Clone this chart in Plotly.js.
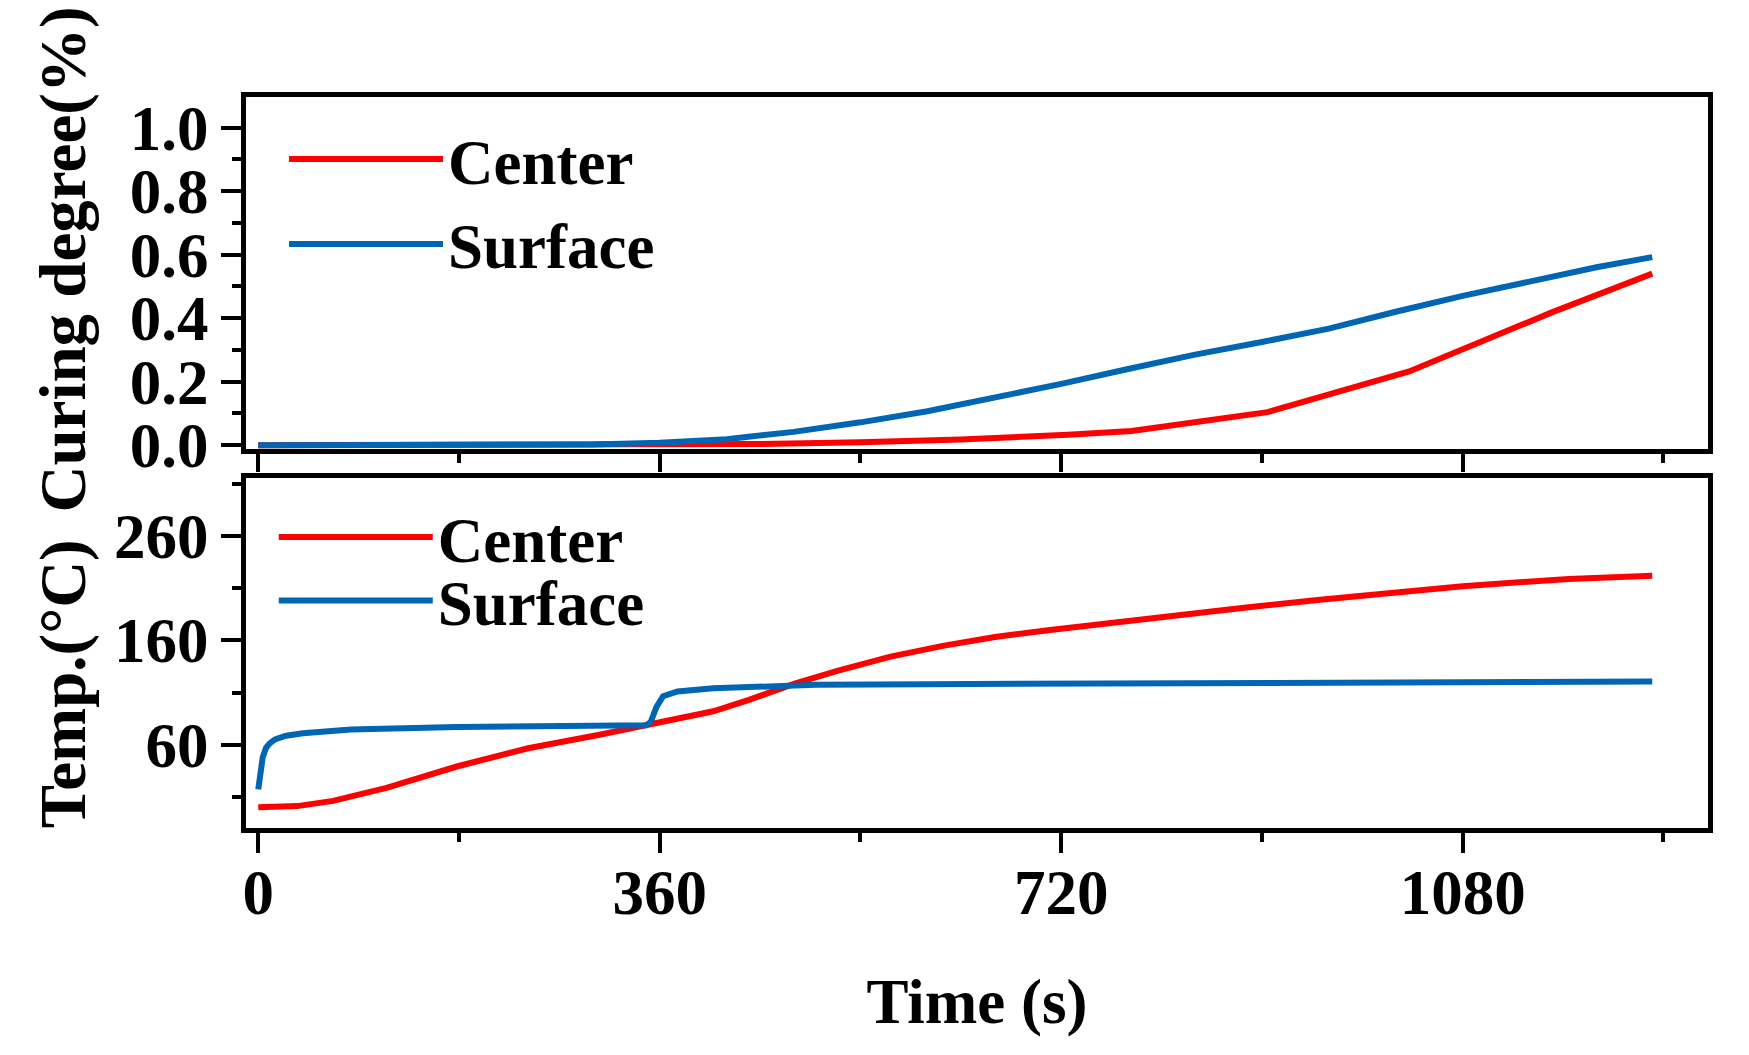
<!DOCTYPE html>
<html>
<head>
<meta charset="utf-8">
<script src="https://cdn.plot.ly/plotly-3.0.1.min.js"></script>
<style>
    body { margin: 0; background: #fff; }
    #chart { width: 1749px; height: 1055px; }
</style>
</head>
<body>
<div id="chart"></div>
<script>
// curing degree
let centerCureTime = [0, 180, 360, 450, 540, 630, 726, 783, 905, 1032, 1160, 1250]
let centerCure = [0, 0, 0.001, 0.004, 0.009, 0.018, 0.033, 0.045, 0.104, 0.232, 0.418, 0.54]

let surfaceCureTime = [0, 100, 200, 300, 360, 420, 480, 540, 600, 660, 720, 780, 840, 900, 960, 1020, 1080, 1140, 1200, 1250]
let surfaceCure = [0, 0, 0, 0.002, 0.008, 0.019, 0.042, 0.072, 0.107, 0.148, 0.193, 0.24, 0.285, 0.325, 0.367, 0.42, 0.47, 0.515, 0.56, 0.592]

// temperature, lower panel
let centerTempTime = [0, 35, 67, 115, 178, 242, 306, 348, 380, 408, 440, 481, 520, 567, 615, 662, 710, 757, 827, 890, 952, 1015, 1080, 1175, 1250]
let centerTemp = [0, 1, 6, 18.5, 39, 56.5, 69.5, 79, 85.5, 92, 103, 118.5, 131, 144.5, 155, 163.5, 170, 176, 185, 192, 199, 205.5, 212, 219, 222]

let surfaceTempTime = [0, 1, 2, 4, 7, 10, 15, 25, 40, 60, 83, 178, 274, 348, 352, 357, 363, 376, 408, 440, 500, 600, 800, 1000, 1250]
let surfaceTemp = [17, 28, 38, 48, 57, 61, 65, 68.5, 71, 73, 74.5, 77, 78, 78.5, 82, 96, 106.5, 111, 114, 115.5, 117.5, 118, 119, 119.5, 120.5]

let seriesNames = ['Center', 'Surface']
let seriesColors = ['#ff0000', '#0066b3']

let timeTicks = [0, 360, 720, 1080]
let cureTicks = [0, 0.2, 0.4, 0.6, 0.8, 1.0]
let tempTicks = [60, 160, 260]

let fontFamily = 'Liberation Serif, Times New Roman, serif'
let bigFont = { family: fontFamily, size: 63, color: '#000', weight: 'bold' }

function line(x, y, i, xa, ya, legend) {
    return {
        x: x, y: y, xaxis: xa, yaxis: ya, legend: legend,
        name: seriesNames[i], mode: 'lines',
        line: { color: seriesColors[i], width: 6 }
    }
}

let data = [
    line(centerCureTime, centerCure, 0, 'x', 'y', 'legend'),
    line(surfaceCureTime, surfaceCure, 1, 'x', 'y', 'legend'),
    line(centerTempTime, centerTemp, 0, 'x2', 'y2', 'legend2'),
    line(surfaceTempTime, surfaceTemp, 1, 'x2', 'y2', 'legend3'),
]

function minorTicks(dtick, tick0) {
    return { ticks: 'outside', ticklen: 9, tickwidth: 4, tickcolor: '#000', dtick: dtick, tick0: tick0, showgrid: false }
}

function frame(extra) {
    let ax = {
        showline: true, linecolor: '#000', linewidth: 5, mirror: true,
        showgrid: false, zeroline: false,
        ticks: 'outside', ticklen: 20, tickwidth: 4, tickcolor: '#000',
        tickfont: bigFont, ticklabelstandoff: 0
    }
    return Object.assign(ax, extra)
}

let xRange = [-11, 1300]

let layout = {
    width: 1749,
    height: 1055,
    margin: { l: 246, r: 41, t: 97, b: 227 },
    paper_bgcolor: '#fff',
    plot_bgcolor: '#fff',
    font: bigFont,
    xaxis: frame({
        anchor: 'y', domain: [0, 1], range: xRange,
        tickvals: timeTicks, showticklabels: false, ticklen: 18,
        minor: minorTicks(180, 0)
    }),
    yaxis: frame({
        anchor: 'x', domain: [0.518, 1], range: [-0.013, 1.096],
        tickvals: cureTicks, ticktext: cureTicks.map(v => v.toFixed(1)),
        minor: minorTicks(0.1, 0)
    }),
    xaxis2: frame({
        anchor: 'y2', domain: [0, 1], range: xRange,
        tickvals: timeTicks, ticklabelstandoff: -15,
        minor: minorTicks(180, 0),
        title: { text: 'Time (s)', font: bigFont, standoff: 54 }
    }),
    yaxis2: frame({
        anchor: 'x2', domain: [0, 0.479], range: [-20, 316],
        tickvals: tempTicks,
        minor: minorTicks(50, 10)
    }),
    legend: {
        x: 0.026, xanchor: 'left', y: 0.857, yanchor: 'middle',
        font: bigFont, itemwidth: 154, bgcolor: 'rgba(0,0,0,0)', tracegroupgap: 0
    },
    legend2: {
        x: 0.019, xanchor: 'left', y: 0.398, yanchor: 'middle',
        font: bigFont, itemwidth: 154, bgcolor: 'rgba(0,0,0,0)'
    },
    legend3: {
        x: 0.019, xanchor: 'left', y: 0.311, yanchor: 'middle',
        font: bigFont, itemwidth: 154, bgcolor: 'rgba(0,0,0,0)'
    },
    annotations: [
        { text: 'Curing degree(%)', textangle: -90, xref: 'paper', yref: 'paper',
          x: -0.125, y: 0.778, xanchor: 'center', yanchor: 'middle', showarrow: false,
          font: Object.assign({}, bigFont, { size: 65 }) },
        { text: 'Temp.(°C)', textangle: -90, xref: 'paper', yref: 'paper',
          x: -0.125, y: 0.197, xanchor: 'center', yanchor: 'middle', showarrow: false,
          font: Object.assign({}, bigFont, { size: 65 }) }
    ],
    showlegend: true
}

Plotly.newPlot('chart', data, layout, { staticPlot: true })
</script>
</body>
</html>
